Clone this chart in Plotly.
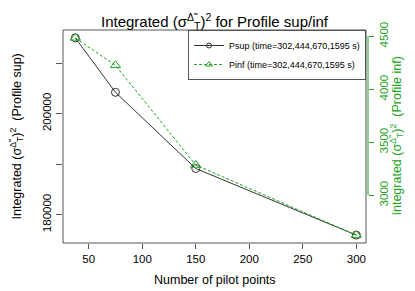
import plotly.graph_objects as go

pilot_points = [37.5, 75, 150, 300]
psup = [214967, 204200, 189130, 175962]
pinf = [4485, 4226, 3286, 2624]
x_ticks = [50, 100, 150, 200, 250, 300]
left_ticks = [180000, 190000, 200000, 210000]
left_ticktext = ["180000", "", "200000", ""]
right_ticks = [3000, 3500, 4000, 4500]
legend_sup = "Psup (time=302,444,670,1595 s)"
legend_inf = "Pinf (time=302,444,670,1595 s)"

GREEN = "#22a322"
GRAY = "#555555"
FONT = "Liberation Sans, Arial, Helvetica, sans-serif"
sig = "(σ<sup>Δ̃</sup><sub>T</sub>)<sup>2</sup>"

fig = go.Figure()
fig.add_trace(go.Scatter(
    x=pilot_points, y=psup, name=legend_sup, mode="lines+markers",
    line=dict(color="#333333", width=1), showlegend=False,
    marker=dict(symbol="circle-open", size=8, color="#333333", line=dict(width=1)),
    yaxis="y"))
fig.add_trace(go.Scatter(
    x=pilot_points, y=pinf, name=legend_inf, mode="lines+markers",
    line=dict(color=GREEN, width=1, dash="3px,2px"), showlegend=False,
    marker=dict(symbol="triangle-up-open", size=9, color=GREEN, line=dict(width=1)),
    yaxis="y2"))
# legend entries with smaller symbols (as in the reference legend)
fig.add_trace(go.Scatter(
    x=[None], y=[None], name=legend_sup, mode="lines+markers",
    line=dict(color="#333333", width=1),
    marker=dict(symbol="circle-open", size=5, color="#333333", line=dict(width=1))))
fig.add_trace(go.Scatter(
    x=[None], y=[None], name=legend_inf, mode="lines+markers",
    line=dict(color=GREEN, width=1, dash="3px,2px"),
    marker=dict(symbol="triangle-up-open", size=6, color=GREEN, line=dict(width=1)),
    yaxis="y2"))

fig.update_layout(
    width=415, height=291,
    margin=dict(l=55, r=55, t=22, b=56),
    paper_bgcolor="white", plot_bgcolor="white",
    font=dict(family=FONT, size=11, color="black"),
    showlegend=True,
    title=dict(text="Integrated " + sig + " for Profile sup/inf",
               x=0.4976, xref="container", xanchor="center",
               y=1 - 14 / 291, yref="container", yanchor="middle",
               font=dict(size=15, family=FONT, color="black")),
    xaxis=dict(range=[26.0, 310.9], tickvals=x_ticks, ticks="outside", ticklen=5,
               tickcolor=GRAY, showgrid=False, zeroline=False, showline=False,
               tickfont=dict(size=11.5)),
    yaxis=dict(range=[174402, 216527], tickvals=left_ticks, ticktext=left_ticktext,
               ticks="outside", ticklen=6, tickcolor=GRAY, tickangle=-90,
               showgrid=False, zeroline=False, showline=False,
               tickfont=dict(size=11.5)),
    yaxis2=dict(range=[2550, 4559.4], tickvals=right_ticks, overlaying="y",
                side="right", anchor="x", ticks="outside", ticklen=5,
                tickcolor=GREEN, tickangle=-90, showgrid=False, zeroline=False,
                showline=False, tickfont=dict(size=11.5, color=GREEN)),
    legend=dict(x=303 / 305, xanchor="right", y=1, yanchor="top",
                bordercolor=GRAY, borderwidth=1, bgcolor="white",
                font=dict(size=9, family=FONT), itemwidth=30,
                tracegroupgap=0),
)

# plot box
fig.add_shape(type="rect", xref="paper", yref="paper", x0=0, x1=303 / 305,
              y0=0, y1=1, line=dict(color=GRAY, width=1), layer="above")
# green right axis line (spanning tick range)
fig.add_shape(type="line", xref="paper", yref="y2", x0=1, x1=1,
              y0=right_ticks[0], y1=right_ticks[-1], line=dict(color=GREEN, width=1))

fig.add_annotation(text="Number of pilot points", xref="paper", yref="paper",
                   x=(206.5 - 55) / 305, y=-(272 - 235) / 213, showarrow=False,
                   font=dict(size=12.5), xanchor="center", yanchor="middle")
fig.add_annotation(text="Integrated " + sig + "  (Profile sup)", xref="paper", yref="paper",
                   x=(8 - 55) / 305, y=0.5, textangle=-90, showarrow=False,
                   font=dict(size=12.5), xanchor="center", yanchor="middle")
fig.add_annotation(text="Integrated " + sig + "  (Profile inf)", xref="paper", yref="paper",
                   x=(388 - 55) / 305, y=0.5, textangle=-90, showarrow=False,
                   font=dict(size=12.5, color=GREEN), xanchor="center", yanchor="middle")

fig.write_html("out.html")
